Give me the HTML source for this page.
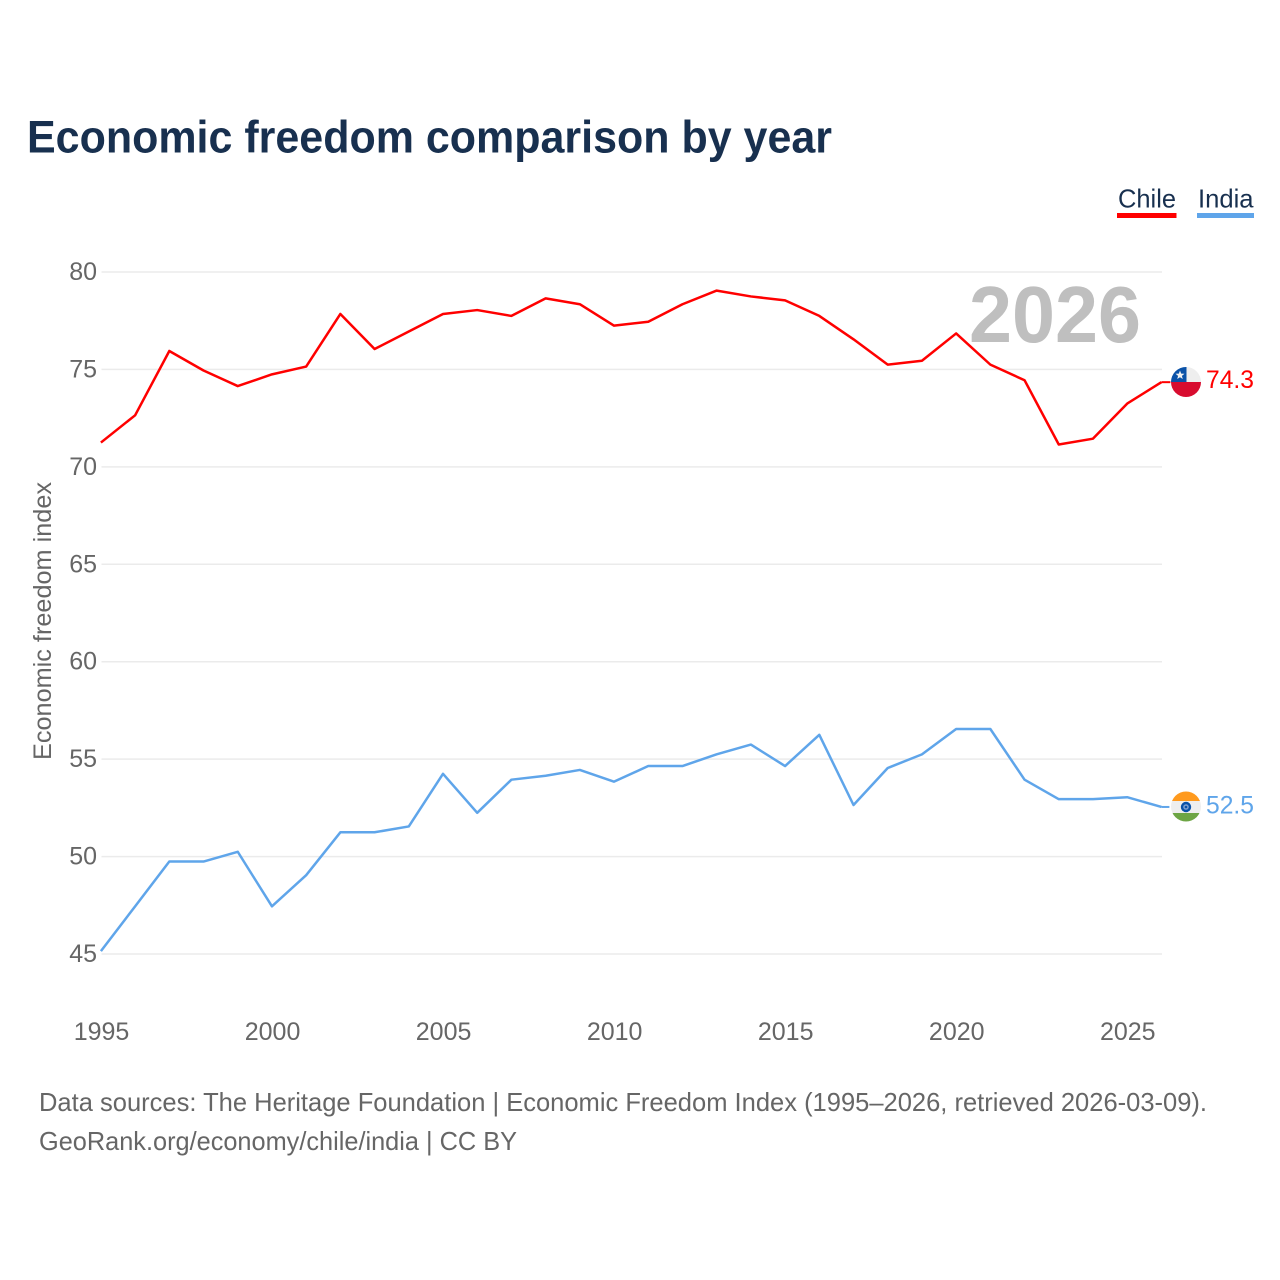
<!DOCTYPE html>
<html lang="en">
<head>
<meta charset="utf-8">
<title>Economic freedom comparison by year</title>
<style>
html,body{margin:0;padding:0;background:#fff}
svg{display:block;font-family:"Liberation Sans",sans-serif}
</style>
</head>
<body>
<svg id="chart" xmlns="http://www.w3.org/2000/svg" width="1280" height="1280" viewBox="0 0 1280 1280">
  <rect width="1280" height="1280" fill="#ffffff"/>
  <text x="27" y="152.5" font-size="45" font-weight="700" fill="#18304f" textLength="805" lengthAdjust="spacingAndGlyphs">Economic freedom comparison by year</text>

  <g>
    <text x="1118" y="207.5" font-size="26" fill="#18304f" textLength="58" lengthAdjust="spacingAndGlyphs">Chile</text>
    <rect x="1117" y="213" width="59.5" height="5" fill="#ff0000"/>
  </g>
  <g>
    <text x="1198" y="207.5" font-size="26" fill="#18304f" textLength="55.5" lengthAdjust="spacingAndGlyphs">India</text>
    <rect x="1197" y="213" width="57" height="5" fill="#5fa5ea"/>
  </g>

  <text transform="translate(51,760) rotate(-90)" font-size="25" fill="#666666" textLength="278" lengthAdjust="spacingAndGlyphs">Economic freedom index</text>

  <g id="grid"></g>
  <g id="y-ticks"></g>
  <g id="x-ticks"></g>

  <text x="969" y="342" font-size="80" font-weight="700" fill="#bfbfbf" textLength="172" lengthAdjust="spacingAndGlyphs">2026</text>

  <g id="series" transform="translate(-0.6,-0.9)"></g>

  <defs>
    <clipPath id="flag-clip-chile"><circle cx="1186" cy="382" r="15"/></clipPath>
    <clipPath id="flag-clip-india"><circle cx="1186" cy="806.5" r="15"/></clipPath>
  </defs>

  <g clip-path="url(#flag-clip-chile)">
    <rect x="1171" y="367" width="30" height="15" fill="#eeeeee"/>
    <rect x="1171" y="367" width="15.5" height="15" fill="#0a52a8"/>
    <rect x="1171" y="382" width="30" height="16" fill="#d80c2f"/>
    <polygon points="1180,370.5 1181.2,373.6 1184.5,373.8 1181.9,375.9 1182.8,379 1180,377.3 1177.2,379 1178.1,375.9 1175.5,373.8 1178.8,373.6" fill="#f0f0f0"/>
  </g>
  <g clip-path="url(#flag-clip-india)">
    <rect x="1171" y="791" width="30" height="10" fill="#ff9a1e"/>
    <rect x="1171" y="801" width="30" height="12" fill="#eeeeee"/>
    <rect x="1171" y="813" width="30" height="10" fill="#6da544"/>
    <circle cx="1186" cy="807" r="5.2" fill="#0a52a8"/>
    <circle cx="1186" cy="807" r="2.8" fill="#7f9fd0"/>
    <circle cx="1186" cy="807" r="1.3" fill="#0a52a8"/>
  </g>

  <text id="value-chile" x="1206" y="388" font-size="25" fill="#ff0000" textLength="48" lengthAdjust="spacingAndGlyphs"></text>
  <text id="value-india" x="1206" y="813.5" font-size="25" fill="#5fa5ea" textLength="48" lengthAdjust="spacingAndGlyphs"></text>

  <text x="39" y="1111" font-size="26" fill="#666666" textLength="1168" lengthAdjust="spacingAndGlyphs">Data sources: The Heritage Foundation | Economic Freedom Index (1995–2026, retrieved 2026-03-09).</text>
  <text x="39" y="1150" font-size="26" fill="#666666" textLength="478" lengthAdjust="spacingAndGlyphs">GeoRank.org/economy/chile/india | CC BY</text>
</svg>

<script>
const years = [1995,1996,1997,1998,1999,2000,2001,2002,2003,2004,2005,2006,2007,2008,2009,2010,2011,2012,2013,2014,2015,2016,2017,2018,2019,2020,2021,2022,2023,2024,2025,2026];
const chileValues = [71.2,72.6,75.9,74.9,74.1,74.7,75.1,77.8,76.0,76.9,77.8,78.0,77.7,78.6,78.3,77.2,77.4,78.3,79.0,78.7,78.5,77.7,76.5,75.2,75.4,76.8,75.2,74.4,71.1,71.4,73.2,74.3];
const indiaValues = [45.1,47.4,49.7,49.7,50.2,47.4,49.0,51.2,51.2,51.5,54.2,52.2,53.9,54.1,54.4,53.8,54.6,54.6,55.2,55.7,54.6,56.2,52.6,54.5,55.2,56.5,56.5,53.9,52.9,52.9,53.0,52.5];
const yTickValues = [45,50,55,60,65,70,75,80];
const xTickValues = [1995,2000,2005,2010,2015,2020,2025];

const NS = 'http://www.w3.org/2000/svg';
const xScale = function (year) { return 101.5 + (year - 1995) * (1162 - 101.5) / 31; };
const yScale = function (value) { return 954 + (value - 45) * (272 - 954) / 35; };

const gridGroup = document.getElementById('grid');
const yTickGroup = document.getElementById('y-ticks');
const xTickGroup = document.getElementById('x-ticks');
const seriesGroup = document.getElementById('series');

yTickValues.forEach(function (tick) {
  const line = document.createElementNS(NS, 'line');
  
  
  line.setAttribute('x1', 101.5);
  line.setAttribute('x2', 1162);
  line.setAttribute('y1', yScale(tick));
  line.setAttribute('y2', yScale(tick));
  line.setAttribute('stroke', '#ebebeb');
  line.setAttribute('stroke-width', '1.5');
  gridGroup.appendChild(line);

  const label = document.createElementNS(NS, 'text');
  
  
  label.setAttribute('x', 97);
  label.setAttribute('y', yScale(tick) + 8);
  label.setAttribute('text-anchor', 'end');
  label.setAttribute('font-size', '25');
  label.setAttribute('fill', '#666666');
  label.textContent = tick;
  yTickGroup.appendChild(label);
});

xTickValues.forEach(function (tick) {
  const label = document.createElementNS(NS, 'text');
  
  
  label.setAttribute('x', xScale(tick));
  label.setAttribute('y', 1040);
  label.setAttribute('text-anchor', 'middle');
  label.setAttribute('font-size', '25');
  label.setAttribute('fill', '#666666');
  label.textContent = tick;
  xTickGroup.appendChild(label);
});

function pathFor(values) {
  return values.map(function (value, i) {
    return (i === 0 ? 'M' : 'L') + xScale(years[i]).toFixed(2) + ' ' + yScale(value).toFixed(2);
  }).join(' ');
}

const chileLine = document.createElementNS(NS, 'path');


chileLine.setAttribute('d', pathFor(chileValues));
chileLine.setAttribute('fill', 'none');
chileLine.setAttribute('stroke', '#ff0000');
chileLine.setAttribute('stroke-width', '2.5');
chileLine.setAttribute('stroke-linejoin', 'round');
seriesGroup.appendChild(chileLine);

const indiaLine = document.createElementNS(NS, 'path');


indiaLine.setAttribute('d', pathFor(indiaValues));
indiaLine.setAttribute('fill', 'none');
indiaLine.setAttribute('stroke', '#5fa5ea');
indiaLine.setAttribute('stroke-width', '2.5');
indiaLine.setAttribute('stroke-linejoin', 'round');
seriesGroup.appendChild(indiaLine);

const chileConnector = document.createElementNS(NS, 'line');


chileConnector.setAttribute('x1', xScale(years[years.length - 1]));
chileConnector.setAttribute('x2', 1171);
chileConnector.setAttribute('y1', yScale(chileValues[chileValues.length - 1]));
chileConnector.setAttribute('y2', yScale(chileValues[chileValues.length - 1]));
chileConnector.setAttribute('stroke', '#ff0000');
chileConnector.setAttribute('stroke-width', '2');
seriesGroup.appendChild(chileConnector);

const indiaConnector = document.createElementNS(NS, 'line');


indiaConnector.setAttribute('x1', xScale(years[years.length - 1]));
indiaConnector.setAttribute('x2', 1170);
indiaConnector.setAttribute('y1', yScale(indiaValues[indiaValues.length - 1]));
indiaConnector.setAttribute('y2', yScale(indiaValues[indiaValues.length - 1]));
indiaConnector.setAttribute('stroke', '#5fa5ea');
indiaConnector.setAttribute('stroke-width', '2');
seriesGroup.appendChild(indiaConnector);

document.getElementById('value-chile').textContent = chileValues[chileValues.length - 1].toFixed(1);
document.getElementById('value-india').textContent = indiaValues[indiaValues.length - 1].toFixed(1);
</script>
</body>
</html>
